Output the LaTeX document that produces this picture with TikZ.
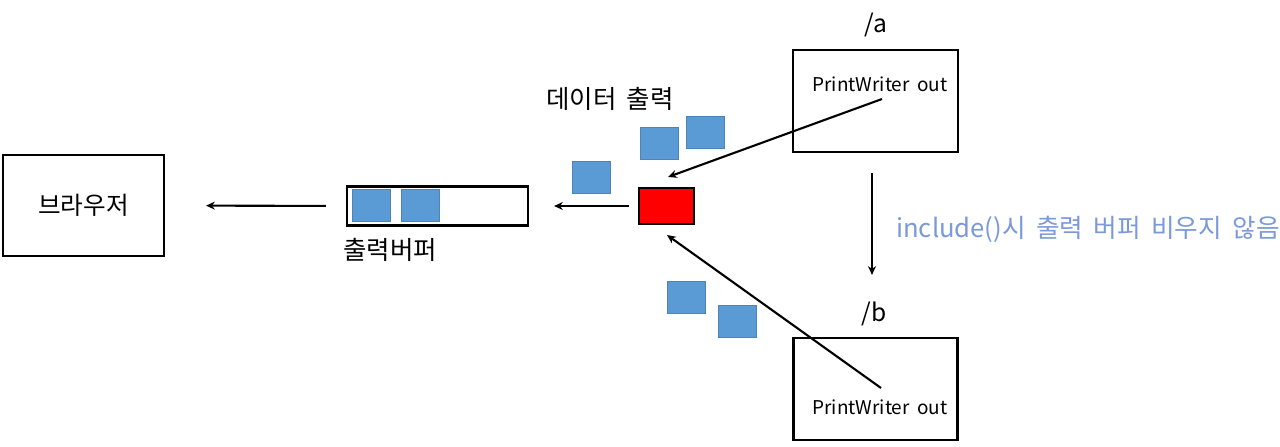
\documentclass[tikz,border=0pt]{standalone}
\usepackage{fontspec}
\setmainfont[WordSpace=1.8]{Noto Sans CJK KR}
\usetikzlibrary{arrows.meta,positioning}
\definecolor{chunkblue}{RGB}{91,155,213}
\definecolor{notecolor}{RGB}{122,153,218}

\begin{document}
\begin{tikzpicture}[x=0.02cm,y=-0.02cm,>={Stealth[length=5pt,width=4.5pt]},
  frame/.style={draw,line width=1.2pt,inner sep=0pt},
  chunk/.style={fill=chunkblue,draw=chunkblue!85!black,line width=0.3pt,minimum width=0.76cm,minimum height=0.64cm,inner sep=0pt},
  flow/.style={->,line width=1.2pt},
  big/.style={font=\fontsize{14}{16}\selectfont},
  small/.style={font=\fontsize{10.8}{12}\selectfont}]
  \useasboundingbox (0,0) rectangle (1280,446);

  % left side
  \node (browser) [frame,big,minimum width=3.22cm,minimum height=2.02cm] at (83.5,205.5) {브라우저};
  \node (buffer) [frame,minimum width=3.62cm,minimum height=0.78cm] at (437.5,206) {};
  \node (chunk1) [chunk] at (371.5,205.5) {};
  \node (chunk2) [chunk] at (420,205.5) {};
  \node (buflabel) [big,font=\fontsize{14.5}{16}\selectfont] at (390,250) {출력버퍼};
  \node (red) [frame,fill=red,minimum width=1.1cm,minimum height=0.72cm] at (666.5,206) {};

  % data chunks in flight
  \node (chunk3) [chunk] at (591.5,177.5) {};
  \node (chunk4) [chunk] at (659.5,143) {};
  \node (chunk5) [chunk] at (705.5,132.5) {};
  \node (chunk6) [chunk] at (686,297) {};
  \node (chunk7) [chunk] at (737.5,321.5) {};
  \node (outlabel) [big,font=\fontsize{14.5}{16}\selectfont] at (610,99) {데이터 출력};

  % pages
  \node (pagea) [frame,minimum width=3.3cm,minimum height=2.04cm] at (875.5,101) {};
  \node (pageb) [frame,minimum width=3.28cm,minimum height=2.04cm] at (875.5,389) {};
  \node (namea) [big] at (876,25) {/a};
  \node (nameb) [big] at (874,314) {/b};
  \node (writera) [small] at (880,84) {PrintWriter out};
  \node (writerb) [small] at (880,407) {PrintWriter out};
  \coordinate (outa) at (882,99);
  \coordinate (outb) at (881,388);
  \coordinate (ina) at (668,177);
  \coordinate (inb) at (667,235);

  \draw[flow,shorten <=0.4cm,shorten >=0.82cm] (buffer.west) -- (browser.east);
  \draw[flow,shorten <=0.18cm,shorten >=0.5cm] (red.west) -- (buffer.east);
  \draw[flow] (outa) -- (ina);
  \draw[flow] (outb) -- (inb);
  \draw[flow,shorten <=0.4cm,shorten >=1.24cm] ([xshift=-2]pagea.south) -- ([xshift=-2]pageb.north);
  \node (note) [text=notecolor,anchor=west,font=\fontsize{14.6}{16}\selectfont] at (890,229) {include()시 출력 버퍼 비우지 않음};
\end{tikzpicture}
\end{document}
